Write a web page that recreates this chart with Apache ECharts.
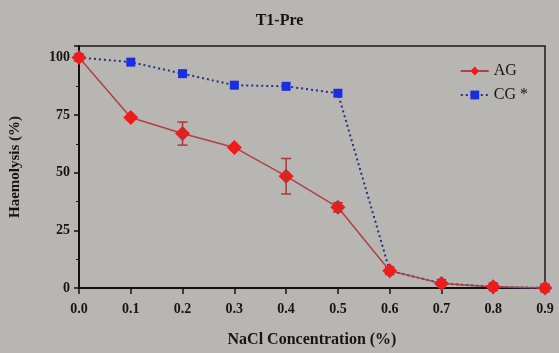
<!DOCTYPE html>
<html><head><meta charset="utf-8">
<script src="https://cdn.jsdelivr.net/npm/echarts@6/dist/echarts.min.js"></script>
<style>html,body{margin:0;padding:0;background:#b8b6b3;}#c{width:559px;height:353px;}</style>
</head><body><div id="c"></div>
<script>
const xValues = [0.0, 0.1, 0.2, 0.3, 0.4, 0.5, 0.6, 0.7, 0.8, 0.9];
const agValues = [100, 74, 67, 61, 48.5, 35, 7.5, 2, 0.5, 0];
const agErrors = [0, 0, 5, 0, 7.7, 2, 0, 0, 0, 0];
const cgValues = [100, 98, 93, 88, 87.5, 84.5, 7.5, 2, 0.5, 0];
const yTicks = [0, 25, 50, 75, 100];
const titleText = 'T1-Pre';
const xName = 'NaCl Concentration (%)';
const yName = 'Haemolysis (%)';

const serif = 'Liberation Serif';
const txt = {fontFamily: serif, fontWeight: 'bold', color: '#151515', textShadowColor: 'rgba(255,255,255,0.8)', textShadowOffsetX: 1, textShadowOffsetY: 1, textShadowBlur: 0};

const chart = echarts.init(document.getElementById('c'));
chart.setOption({
  backgroundColor: '#b8b6b3',
  animation: false,
  title: {text: titleText, left: 'center', top: 8, textStyle: Object.assign({}, txt, {fontSize: 16})},
  legend: {
    right: 26, top: 58, orient: 'vertical', itemGap: 8, itemWidth: 28, itemHeight: 11,
    textStyle: Object.assign({}, txt, {fontSize: 16, fontWeight: 'normal'}),
    data: [{name: 'AG'}, {name: 'CG *'}]
  },
  grid: {left: 78, right: 14, top: 46, bottom: 62, show: true, borderColor: '#1a1a1a', borderWidth: 1.5, backgroundColor: 'transparent'},
  xAxis: {
    type: 'value', min: 0, max: 0.9, interval: 0.1,
    name: xName, nameLocation: 'middle', nameGap: 44,
    nameTextStyle: Object.assign({}, txt, {fontSize: 16}),
    axisLine: {lineStyle: {color: '#111', width: 2}},
    axisTick: {show: true, inside: false, length: 6, lineStyle: {color: '#111', width: 1.5}},
    axisLabel: Object.assign({}, txt, {fontSize: 14, margin: 14, formatter: v => v.toFixed(1)}),
    splitLine: {show: false}
  },
  yAxis: {
    type: 'value', min: 0, max: 105, interval: 25,
    name: yName, nameLocation: 'middle', nameGap: 56,
    nameTextStyle: Object.assign({}, txt, {fontSize: 15}),
    axisLine: {show: true, lineStyle: {color: '#111', width: 2}},
    axisTick: {show: true, inside: false, length: 5, lineStyle: {color: '#111', width: 1.5}},
    minorTick: {show: true, splitNumber: 2, length: 3, lineStyle: {color: '#111'}},
    axisLabel: Object.assign({}, txt, {fontSize: 14, margin: 9, formatter: v => yTicks.indexOf(v) >= 0 ? String(v) : ''}),
    splitLine: {show: false}
  },
  series: [
    {
      name: 'CG *', type: 'line', data: xValues.map((x, i) => [x, cgValues[i]]),
      symbol: 'rect', symbolSize: 9, itemStyle: {color: '#1a2de0'},
      lineStyle: {color: '#24308a', width: 2, type: [2, 3]}, z: 2
    },
    {
      name: 'AG', type: 'line', data: xValues.map((x, i) => [x, agValues[i]]),
      symbol: 'diamond', symbolSize: 15, itemStyle: {color: '#f01c1c'},
      lineStyle: {color: '#b04048', width: 1.5}, z: 3
    },
    {
      name: 'AGerr', type: 'custom', z: 4,
      data: xValues.map((x, i) => [x, agValues[i] - agErrors[i], agValues[i] + agErrors[i]]).filter((d, i) => agErrors[i] > 0),
      renderItem: function (params, api) {
        const x = api.value(0);
        const lo = api.coord([x, api.value(1)]);
        const hi = api.coord([x, api.value(2)]);
        const w = 5;
        const st = {stroke: '#a83a3a', lineWidth: 1.5};
        return {type: 'group', children: [
          {type: 'line', shape: {x1: lo[0], y1: lo[1], x2: hi[0], y2: hi[1]}, style: st},
          {type: 'line', shape: {x1: lo[0] - w, y1: lo[1], x2: lo[0] + w, y2: lo[1]}, style: st},
          {type: 'line', shape: {x1: hi[0] - w, y1: hi[1], x2: hi[0] + w, y2: hi[1]}, style: st}
        ]};
      }
    }
  ]
});
</script></body></html>
